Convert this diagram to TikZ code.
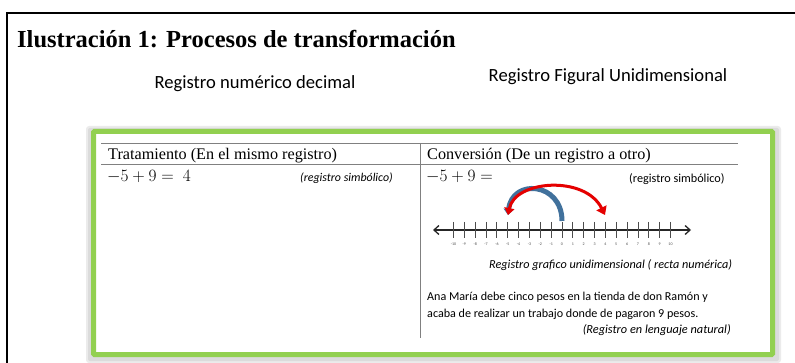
\documentclass[tikz,border=0pt]{standalone}
\usepackage{fontspec}
\setmainfont{Liberation Serif}
\newfontfamily\calib{Carlito}
\usetikzlibrary{arrows.meta}
\definecolor{grn}{HTML}{92D050}
\definecolor{blu}{HTML}{41719C}
\definecolor{rul}{HTML}{808080}
\tikzset{
  frame/.style={draw=black, line width=1.6pt},
  sans/.style={font=\calib\fontsize{18.6}{22}\selectfont, inner sep=0pt},
  hdr/.style={font=\fontsize{16.2}{19}\selectfont, inner sep=0pt, anchor=base west},
  small/.style={font=\calib\fontsize{12.2}{14}\selectfont, inner sep=0pt},
  body/.style={font=\calib\fontsize{12.1}{14}\selectfont, inner sep=0pt, anchor=base west},
  rule/.style={draw=rul, line width=0.8pt},
  tick/.style={draw=black!70, line width=0.9pt},
  tlab/.style={font=\calib\fontsize{4}{4}\selectfont, inner sep=0pt, text=black!70},
}
\begin{document}
\begin{tikzpicture}[x=1pt,y=-1pt]
\useasboundingbox (0,0) rectangle (795,363);
% outer frame
\draw[frame] (7,363) -- (7,13) -- (795,13);
\node[font=\bfseries\fontsize{24.5}{28}\selectfont, inner sep=0pt, anchor=base west] (title) at (17,48) {Ilustración 1: Procesos de transformación};
\node[sans, anchor=base] (regnum) at (255,89) {Registro numérico decimal};
\node[sans, anchor=base] (regfig) at (608,82) {Registro Figural Unidimensional};
% shadow
\fill[black!8, rounded corners=3pt] (86,126) rectangle (781,363);
\fill[black!14, rounded corners=2pt] (88,128) rectangle (779,361);
% green frame
\draw[draw=grn, line width=5pt, fill=white, rounded corners=1pt] (93.5,131.5) rectangle (772.5,354.5);
% table
\draw[rule] (101,143) -- (738,143);
\draw[rule] (101,164) -- (738,164);
\draw[rule] (420,143) -- (420,338);
\node[hdr] (htrat) at (108,159.5) {Tratamiento (En el mismo registro)};
\node[hdr] (hconv) at (427,159.5) {Conversión (De un registro a otro)};
\node[inner sep=0pt, anchor=base west, font=\fontsize{17.3}{20}\selectfont] (eq1) at (107,182) {$-5+9=\ 4$};
\node[small, font=\calib\itshape\fontsize{11.9}{14}\selectfont, anchor=base west] (rs1) at (300,182) {(registro simbólico)};
\node[inner sep=0pt, anchor=base west, font=\fontsize{17.3}{20}\selectfont] (eq2) at (426,182) {$-5+9=$};
\node[small, anchor=base west] (rs2) at (629,183) {(registro simbólico)};
% number line
\coordinate (nlL) at (433,230);
\coordinate (nlR) at (691,230);
\draw[line width=1.3pt, black!85, {Straight Barb[length=5pt,width=9pt]}-{Straight Barb[length=5pt,width=9pt]}] (nlL) -- (nlR);
\foreach \i in {-10,...,10} {
  \draw[tick] ({562+10.85*\i},222) -- ({562+10.85*\i},238);
  \node[tlab, anchor=base] (lab\i) at ({562+10.85*\i},246) {\i};
}
% arcs
\coordinate (zero) at (562,221);
\coordinate (mfive) at (508,215);
\coordinate (four) at (605,215);
\draw[blu, line width=5pt, -{Triangle[length=6pt,width=10pt]}] (zero) .. controls (562,182) and (512,178) .. (mfive);
\draw[red!90!black, line width=3pt, {Triangle[length=7pt,width=10pt]}-{Triangle[length=8pt,width=11pt]}] (mfive) .. controls (515,180) and (585,175) .. (four);
\node[small, font=\calib\itshape\fontsize{12.2}{14}\selectfont, anchor=base west] (rgraf) at (489,269) {Registro grafico unidimensional ( recta numérica)};
\node[body] (ana1) at (427,301) {Ana María debe cinco pesos en la tienda de don Ramón y};
\node[body] (ana2) at (427,317) {acaba de realizar un trabajo donde de pagaron 9 pesos.};
\node[body, font=\calib\itshape\fontsize{12.3}{14}\selectfont, anchor=base east] (rnat) at (731,333) {(Registro en lenguaje natural)};
\end{tikzpicture}
\end{document}
